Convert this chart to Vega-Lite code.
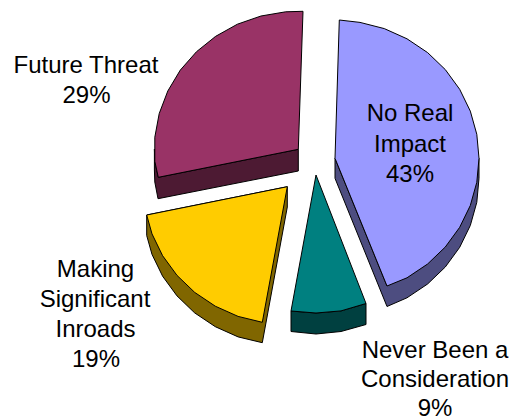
{"$schema":"https://vega.github.io/schema/vega-lite/v6.json","width":518,"height":419,"padding":0,"autosize":"none","background":"white","config":{"view":{"stroke":null}},"datasets":{"shapes":[
{"part":"Future side","n":1,"x":158.3,"y":177.3},{"part":"Future side","n":2,"x":154.8,"y":161.3},{"part":"Future side","n":3,"x":154.4,"y":149},{"part":"Future side","n":4,"x":154.4,"y":170},{"part":"Future side","n":5,"x":154.8,"y":182},{"part":"Future side","n":6,"x":158,"y":198.7},{"part":"Future side","n":7,"x":298.3,"y":171},{"part":"Future side","n":8,"x":298.3,"y":149.3},{"part":"Future side","n":9,"x":158.3,"y":177.3},
{"part":"Future top","n":1,"x":298.3,"y":149.3},{"part":"Future top","n":2,"x":158.3,"y":177.3},{"part":"Future top","n":3,"x":154.8,"y":161.3},{"part":"Future top","n":4,"x":154.8,"y":137.3},{"part":"Future top","n":5,"x":159.2,"y":113.6},{"part":"Future top","n":6,"x":167.8,"y":91},{"part":"Future top","n":7,"x":180.3,"y":70.1},{"part":"Future top","n":8,"x":196.5,"y":51.7},{"part":"Future top","n":9,"x":215.7,"y":36.3},{"part":"Future top","n":10,"x":237.4,"y":24.2},{"part":"Future top","n":11,"x":261,"y":16},{"part":"Future top","n":12,"x":285.7,"y":11.8},{"part":"Future top","n":13,"x":303,"y":11.3},{"part":"Future top","n":14,"x":298.3,"y":149.3},
{"part":"Impact side","n":1,"x":335,"y":158.3},{"part":"Impact side","n":2,"x":335,"y":178.3},{"part":"Impact side","n":3,"x":387,"y":306.5},{"part":"Impact side","n":4,"x":407,"y":297.8},{"part":"Impact side","n":5,"x":427.6,"y":284},{"part":"Impact side","n":6,"x":445.3,"y":267},{"part":"Impact side","n":7,"x":459.7,"y":247.3},{"part":"Impact side","n":8,"x":470.3,"y":225.5},{"part":"Impact side","n":9,"x":476.8,"y":202.3},{"part":"Impact side","n":10,"x":479,"y":178.3},{"part":"Impact side","n":11,"x":479,"y":158.3},{"part":"Impact side","n":12,"x":387,"y":286},{"part":"Impact side","n":13,"x":335,"y":158.3},
{"part":"Impact top","n":1,"x":335,"y":158.3},{"part":"Impact top","n":2,"x":339.3,"y":20},{"part":"Impact top","n":3,"x":360,"y":22.4},{"part":"Impact top","n":4,"x":384.3,"y":28.6},{"part":"Impact top","n":5,"x":407,"y":38.8},{"part":"Impact top","n":6,"x":427.6,"y":52.6},{"part":"Impact top","n":7,"x":445.3,"y":69.6},{"part":"Impact top","n":8,"x":459.7,"y":89.3},{"part":"Impact top","n":9,"x":470.3,"y":111.1},{"part":"Impact top","n":10,"x":476.8,"y":134.3},{"part":"Impact top","n":11,"x":479,"y":158.3},{"part":"Impact top","n":12,"x":476.8,"y":182.3},{"part":"Impact top","n":13,"x":470.3,"y":205.5},{"part":"Impact top","n":14,"x":459.7,"y":227.3},{"part":"Impact top","n":15,"x":445.3,"y":247},{"part":"Impact top","n":16,"x":427.6,"y":264},{"part":"Impact top","n":17,"x":407,"y":277.8},{"part":"Impact top","n":18,"x":387,"y":286},{"part":"Impact top","n":19,"x":335,"y":158.3},
{"part":"Inroads side","n":1,"x":146.7,"y":215},{"part":"Inroads side","n":2,"x":146.7,"y":235.5},{"part":"Inroads side","n":3,"x":152,"y":254.4},{"part":"Inroads side","n":4,"x":162.6,"y":276.2},{"part":"Inroads side","n":5,"x":177,"y":295.9},{"part":"Inroads side","n":6,"x":194.7,"y":312.9},{"part":"Inroads side","n":7,"x":215.3,"y":326.7},{"part":"Inroads side","n":8,"x":238.1,"y":336.9},{"part":"Inroads side","n":9,"x":262.3,"y":342.7},{"part":"Inroads side","n":10,"x":287.3,"y":207},{"part":"Inroads side","n":11,"x":287.3,"y":186.7},{"part":"Inroads side","n":12,"x":146.7,"y":215},
{"part":"Inroads top","n":1,"x":287.3,"y":186.7},{"part":"Inroads top","n":2,"x":262.3,"y":322.3},{"part":"Inroads top","n":3,"x":238.1,"y":316.4},{"part":"Inroads top","n":4,"x":215.3,"y":306.2},{"part":"Inroads top","n":5,"x":194.7,"y":292.4},{"part":"Inroads top","n":6,"x":177,"y":275.4},{"part":"Inroads top","n":7,"x":162.6,"y":255.7},{"part":"Inroads top","n":8,"x":152,"y":233.9},{"part":"Inroads top","n":9,"x":146.7,"y":215},{"part":"Inroads top","n":10,"x":287.3,"y":186.7},
{"part":"Never side","n":1,"x":291,"y":311},{"part":"Never side","n":2,"x":291,"y":331.5},{"part":"Never side","n":3,"x":316,"y":334},{"part":"Never side","n":4,"x":341,"y":331.5},{"part":"Never side","n":5,"x":366,"y":324.5},{"part":"Never side","n":6,"x":366,"y":303.5},{"part":"Never side","n":7,"x":341,"y":310.9},{"part":"Never side","n":8,"x":316,"y":313},{"part":"Never side","n":9,"x":291,"y":311},
{"part":"Never top","n":1,"x":316,"y":175},{"part":"Never top","n":2,"x":291,"y":311},{"part":"Never top","n":3,"x":316,"y":313},{"part":"Never top","n":4,"x":341,"y":310.9},{"part":"Never top","n":5,"x":366,"y":303.5},{"part":"Never top","n":6,"x":316,"y":175}
],"labels":[
{"label":"Future Threat","x":86,"y":73},{"label":"29%","x":86.5,"y":103},
{"label":"No Real","x":410,"y":121},{"label":"Impact","x":410,"y":152},{"label":"43%","x":410,"y":182},
{"label":"Making","x":95.5,"y":277},{"label":"Significant","x":95,"y":307},{"label":"Inroads","x":95.5,"y":337},{"label":"19%","x":96,"y":367},
{"label":"Never Been a","x":435,"y":358},{"label":"Consideration","x":435,"y":387},{"label":"9%","x":435,"y":416}
]},
"layer":[
{"data":{"name":"shapes"},"mark":{"type":"line","filled":true,"stroke":"black","strokeWidth":1,"strokeJoin":"miter","clip":false},
"encoding":{"x":{"field":"x","type":"quantitative","scale":{"domain":[0,518],"nice":false,"zero":false},"axis":null},"y":{"field":"y","type":"quantitative","scale":{"domain":[419,0],"nice":false,"zero":false},"axis":null},"order":{"field":"n","type":"quantitative"},"detail":{"field":"part"},
"fill":{"field":"part","type":"nominal","legend":null,"scale":{"domain":["Future side","Future top","Impact side","Impact top","Inroads side","Inroads top","Never side","Never top"],"range":["#4D1A33","#993366","#4D4D80","#9999FF","#806600","#FFCC00","#004040","#008080"]}}}},
{"data":{"name":"labels"},"mark":{"type":"text","font":"Liberation Sans","fontSize":24,"align":"center","baseline":"alphabetic","color":"black"},
"encoding":{"x":{"field":"x","type":"quantitative","scale":{"domain":[0,518],"nice":false,"zero":false},"axis":null},"y":{"field":"y","type":"quantitative","scale":{"domain":[419,0],"nice":false,"zero":false},"axis":null},"text":{"field":"label"}}}
]}
